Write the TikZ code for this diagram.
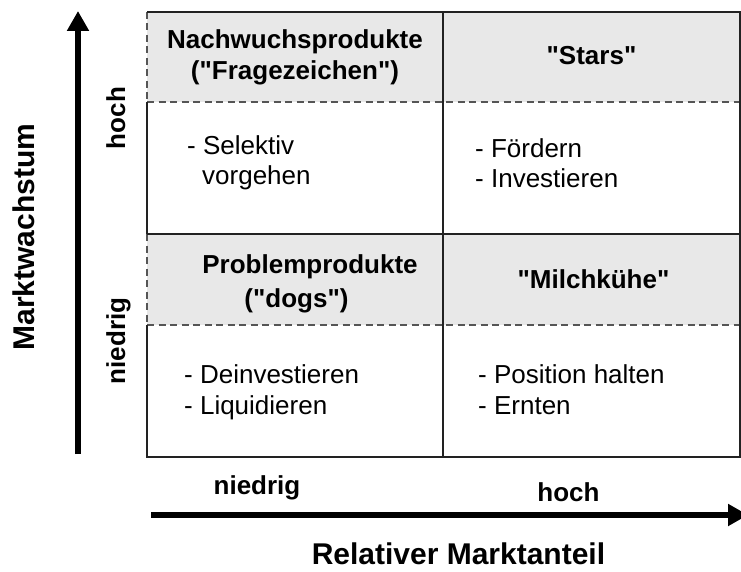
\documentclass[tikz,border=0pt]{standalone}
\usepackage{fontspec}
% plain family without TeX ligature mapping, so " stays a straight quote
\newfontfamily\arial{Liberation Sans}
\usetikzlibrary{arrows.meta}

\tikzset{
  head/.style={fill=headgray, draw=none},
  grid/.style={draw=gridline, line width=1.2pt},
  sep/.style={draw=dashgray, line width=1.2pt, dash pattern=on 7pt off 4.5pt},
  title/.style={font=\arial\fontsize{26}{31}\selectfont\bfseries, anchor=base, inner sep=0pt},
  item/.style={font=\arial\fontsize{26}{31}\selectfont, anchor=base west, inner sep=0pt},
  axislabel/.style={font=\arial\fontsize{30}{36}\selectfont\bfseries, anchor=base, inner sep=0pt},
  level/.style={font=\arial\fontsize{26}{31}\selectfont\bfseries, anchor=base, inner sep=0pt},
  axis/.style={line width=5.5pt, -{Triangle[length=20pt,width=21pt]}}
}
\definecolor{headgray}{HTML}{E8E8E8}
\definecolor{gridline}{HTML}{222222}
\definecolor{dashgray}{HTML}{555555}

\begin{document}
\begin{tikzpicture}[x=1pt, y=-1pt]
\useasboundingbox (0,0) rectangle (741,572);

% header bands of the four quadrants
\fill[head] (147,12) rectangle (740,102);
\fill[head] (147,234) rectangle (740,325);

% dashed separators below the headers and on the left side of the headers
\draw[sep] (147,102) -- (740,102);
\draw[sep] (147,325) -- (740,325);
\draw[sep] (147,12) -- (147,102);
\draw[sep] (147,234) -- (147,325);

% solid frame and quadrant dividers
\draw[grid] (147,12) -- (740,12) -- (740,457) -- (147,457) -- (147,325);
\draw[grid] (147,102) -- (147,234);
\draw[grid] (147,234) -- (740,234);
\draw[grid] (443,12) -- (443,457);

% quadrant headings
\node[title] (qmA) at (295,49) {Nachwuchsprodukte};
\node[title] (qmB) at (295,80) {("Fragezeichen")};
\node[title] (stars) at (591.5,65) {"Stars"};
\node[title] (dogA) at (310,273) {Problemprodukte};
\node[title] (dogB) at (296.5,307) {("dogs")};
\node[title] (cows) at (593.5,288) {"Milchkühe"};

% strategies
\node[item] (s1) at (187,155) {- Selektiv};
\node[item] (s2) at (202,185) {vorgehen};
\node[item] (f1) at (475,158) {- Fördern};
\node[item] (f2) at (475,188) {- Investieren};
\node[item] (d1) at (184,383) {- Deinvestieren};
\node[item] (d2) at (184,414) {- Liquidieren};
\node[item] (p1) at (478,383) {- Position halten};
\node[item] (p2) at (478,414) {- Ernten};

% axes
\coordinate (ybot) at (78,454);
\coordinate (ytop) at (78,11);
\coordinate (xleft) at (151,515);
\coordinate (xright) at (748,515);
\draw[axis] (ybot) -- (ytop);
\draw[axis] (xleft) -- (xright);

\node[axislabel] (xlab) at (458.5,564) {Relativer Marktanteil};
\node[axislabel, rotate=90] (ylab) at (34,237) {Marktwachstum};

\node[level] (xlow) at (257,494) {niedrig};
\node[level] (xhigh) at (568.5,501) {hoch};
\node[level, rotate=90] (yhigh) at (125,118) {hoch};
\node[level, rotate=90] (ylow) at (125,341) {niedrig};
\end{tikzpicture}
\end{document}
